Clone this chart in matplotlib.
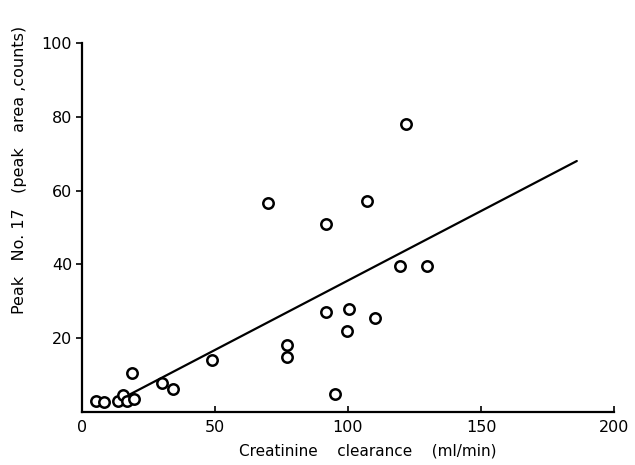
import matplotlib
matplotlib.use("Agg")
import matplotlib.pyplot as plt

# Data
clearance = [5.3, 8.4, 13.7, 15.3, 16.8, 19.5, 18.7, 30.0, 34.3, 48.8,
             69.9, 77.2, 77.0, 91.6, 91.6, 95.1, 99.6, 100.3, 107.3,
             110.0, 119.7, 121.8, 129.8]
peak_area = [3.0, 2.6, 2.9, 4.5, 3.0, 3.4, 10.4, 7.9, 6.1, 14.1,
             56.6, 18.1, 14.8, 51.0, 27.0, 4.9, 21.9, 28.0, 57.2,
             25.4, 39.6, 78.0, 39.4]

# Regression line endpoints
fit_x = [18.0, 186.0]
fit_y = [4.7, 68.0]

x_ticks = [0, 50, 100, 150, 200]
y_ticks = [20, 40, 60, 80, 100]

plt.rcParams['font.family'] = ['DejaVu Sans']

fig = plt.figure(figsize=(6.35, 4.65), dpi=100)
ax = fig.add_axes([0.129, 0.1145, 0.838, 0.793])

ax.plot(fit_x, fit_y, color='black', lw=1.6, solid_capstyle='round')
ax.plot(clearance, peak_area, linestyle='none', marker='o', markersize=7.5,
        markerfacecolor='white', markeredgecolor='black', markeredgewidth=1.8)

ax.set_xlim(0, 200)
ax.set_ylim(0, 100)
ax.set_xticks(x_ticks)
ax.set_yticks(y_ticks)
ax.spines['top'].set_visible(False)
ax.spines['right'].set_visible(False)
ax.spines['left'].set_linewidth(1.6)
ax.spines['bottom'].set_linewidth(1.6)
ax.tick_params(axis='x', direction='in', length=4, width=1.2, labelsize=11.5, pad=6)
ax.tick_params(axis='y', direction='out', length=4, width=1.2, labelsize=11.5, pad=3)

ax.set_xlabel('Creatinine    clearance    (ml/min)', fontsize=11)
ax.xaxis.set_label_coords(0.537, -0.085)
ax.set_ylabel('Peak   No. 17   (peak   area ,counts)', fontsize=11.5)
ax.yaxis.set_label_coords(-0.104, 0.655)

fig.savefig('out.png', dpi=100)
